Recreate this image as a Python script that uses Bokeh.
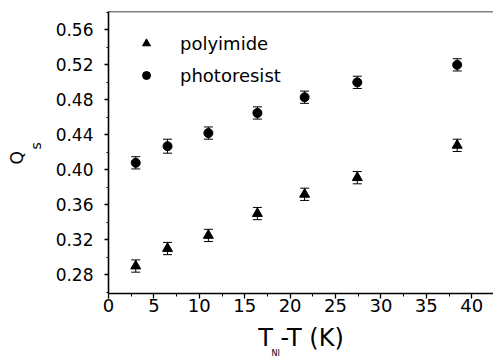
import numpy as np
from bokeh.plotting import figure
from bokeh.models import (Range1d, FixedTicker, PrintfTickFormatter, ColumnDataSource,
                          Whisker, TeeHead, Legend, LegendItem, Title, Span, LinearAxis)
from bokeh.embed import file_html
from bokeh.resources import INLINE

# ---- data ----
dT = [3.0, 6.5, 11.0, 16.4, 21.6, 27.4, 38.4]
q_polyimide = [0.290, 0.310, 0.325, 0.350, 0.372, 0.391, 0.428]
q_photoresist = [0.408, 0.427, 0.442, 0.465, 0.483, 0.500, 0.520]
err_polyimide = [0.007, 0.007, 0.007, 0.007, 0.007, 0.007, 0.007]
err_photoresist = [0.007, 0.008, 0.007, 0.007, 0.007, 0.007, 0.007]

x_ticks = [0, 5, 10, 15, 20, 25, 30, 35, 40]
y_ticks = [0.28, 0.32, 0.36, 0.40, 0.44, 0.48, 0.52, 0.56]

FONT = "DejaVu Sans"
NB = "\u00a0"

p = figure(width=493, height=358, output_backend="svg", toolbar_location=None,
           x_range=Range1d(0, 42.4), y_range=Range1d(0.2586, 0.581),
           min_border_left=108, min_border_right=0, min_border_top=11, min_border_bottom=65)
p.outline_line_color = None
p.grid.visible = False
p.background_fill_color = "white"
p.border_fill_color = "white"

x_minor = [t + 2.5 for t in x_ticks]
y_minor = [round(t - 0.02, 2) for t in y_ticks] + [round(y_ticks[-1] + 0.02, 2)]
p.xaxis.ticker = FixedTicker(ticks=x_ticks, minor_ticks=x_minor)
p.yaxis.ticker = FixedTicker(ticks=y_ticks, minor_ticks=y_minor)
p.xaxis.formatter = PrintfTickFormatter(format="%d")
p.yaxis.formatter = PrintfTickFormatter(format="%.2f")

for ax in (p.xaxis, p.yaxis):
    ax.axis_line_width = 1.6
    ax.axis_line_color = "black"
    ax.major_tick_line_color = "black"
    ax.minor_tick_line_color = "black"
    ax.major_tick_line_width = 1.3
    ax.minor_tick_line_width = 1
    ax.major_tick_in = 0
    ax.minor_tick_in = 0
    ax.major_label_text_font = FONT
    ax.major_label_text_color = "black"
    ax.axis_label_text_font = FONT
    ax.axis_label_text_color = "black"
    ax.axis_label_text_font_style = "normal"
p.xaxis.major_label_text_font_size = "18px"
p.yaxis.major_label_text_font_size = "17px"
p.xaxis.major_tick_out = 5
p.xaxis.minor_tick_out = 3
p.yaxis.major_tick_out = 4
p.yaxis.minor_tick_out = 2
p.xaxis.major_label_standoff = 0
p.yaxis.major_label_standoff = 11

# x title: main text on the axis, subscript as a small title below
p.xaxis.axis_label = "T" + NB + "-T (K)"
p.xaxis.axis_label_text_font_size = "24px"
p.xaxis.axis_label_standoff = 9

# y title: subscript "s" on inner axis, "Q" on an outer, bare axis
p.yaxis.axis_label = NB * 3 + "s"
p.yaxis.axis_label_text_font_size = "14px"
p.yaxis.axis_label_standoff = 9

q_axis = LinearAxis(ticker=FixedTicker(ticks=[]), axis_line_color=None,
                    major_tick_out=0, minor_tick_out=0, major_tick_in=0, minor_tick_in=0,
                    major_label_text_font_size="0px",
                    axis_label="Q" + NB * 2, axis_label_text_font=FONT,
                    axis_label_text_font_size="17px", axis_label_text_color="black",
                    axis_label_text_font_style="normal", axis_label_standoff=0)
try:
    q_axis.axis_label_standoff = -2
except Exception:
    q_axis.axis_label_standoff = 0
p.add_layout(q_axis, "left")

ni = Title(text="NI", align="left", offset=163, standoff=0, vertical_align="top",
           text_font=FONT, text_font_size="8px", text_font_style="normal", text_color="black")
try:
    ni.standoff = -12
except Exception:
    ni.standoff = 0
p.add_layout(ni, "below")

p.add_layout(Span(location=0.581, dimension="width", line_color="black", line_width=1.6))

# error bars
src_pi = ColumnDataSource(dict(x=dT, y=q_polyimide,
                               lo=[v - e for v, e in zip(q_polyimide, err_polyimide)],
                               hi=[v + e for v, e in zip(q_polyimide, err_polyimide)]))
src_pr = ColumnDataSource(dict(x=dT, y=q_photoresist,
                               lo=[v - e for v, e in zip(q_photoresist, err_photoresist)],
                               hi=[v + e for v, e in zip(q_photoresist, err_photoresist)]))
for src in (src_pi, src_pr):
    w = Whisker(source=src, base="x", upper="hi", lower="lo", line_color="black", line_width=1,
                upper_head=TeeHead(size=9, line_color="black", line_width=1),
                lower_head=TeeHead(size=9, line_color="black", line_width=1))
    p.add_layout(w)

r_pi = p.scatter("x", "y", source=src_pi, marker="triangle", size=10,
                 fill_color="black", line_color="black")
r_pr = p.scatter("x", "y", source=src_pr, marker="circle", size=9,
                 fill_color="black", line_color="black")

legend = Legend(items=[LegendItem(label="polyimide", renderers=[r_pi]),
                       LegendItem(label="photoresist", renderers=[r_pr])],
                location=(28, 207), padding=0, margin=0, spacing=10,
                glyph_width=20, glyph_height=22, label_height=22, label_standoff=24,
                label_text_font=FONT, label_text_font_size="18px", label_text_color="black",
                border_line_color=None, background_fill_alpha=0)
p.add_layout(legend)

open("out.html", "w").write(file_html(p, INLINE))
